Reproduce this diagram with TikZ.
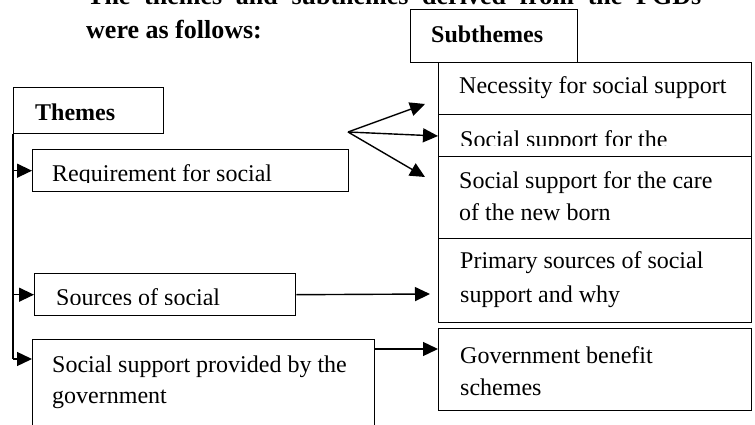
\documentclass[tikz,border=0pt]{standalone}
\usepackage{fontspec}
\setmainfont{Liberation Serif}
\usetikzlibrary{arrows.meta}
\begin{document}
\begin{tikzpicture}[x=1pt,y=-1pt,
  box/.style={draw, line width=1.4pt, inner sep=0pt, anchor=north west},
  txt/.style={inner sep=0pt, anchor=base west, font=\fontsize{24}{32}\selectfont},
  btxt/.style={inner sep=0pt, anchor=base west, font=\fontsize{24}{32}\selectfont\bfseries},
  ttl/.style={inner sep=0pt, anchor=base west, font=\fontsize{26}{34}\selectfont\bfseries},
  conn/.style={line width=1.4pt, -{Triangle[length=15pt,width=14pt]}},
  plain/.style={line width=1.4pt},
]
\clip (0,0) rectangle (755,425);
% title
\node[ttl] (title1) at (87,5) {\makebox[614pt][s]{The themes and subthemes derived from the FGDs}};
\node[ttl] (title2) at (86,39) {were as follows:};
% subtheme column
\node[box, minimum width=167pt, minimum height=53pt] (subth) at (410,9) {};
\node[btxt] (subthT) at (431,43) {Subthemes};
\node[box, minimum width=313pt, minimum height=52pt] (nec) at (438,62) {};
\node[box, minimum width=313pt, minimum height=42pt] (ssft) at (438,114) {};
\node[box, minimum width=313pt, minimum height=82pt] (care) at (438,156) {};
\node[box, minimum width=313pt, minimum height=84pt] (prim) at (438,238) {};
\node[box, minimum width=313pt, minimum height=82pt] (gov) at (438,328) {};
\node[txt] (necT) at (459,94) {Necessity for social support};
\begin{scope}
  \clip (440,116) rectangle (749,146);
  \node[txt] (ssftT) at (460,147) {Social support for the};
\end{scope}
\node[txt] (careT1) at (459,188) {Social support for the care};
\node[txt] (careT2) at (459,220) {of the new born};
\node[txt] (primT1) at (460,268) {Primary sources of social};
\node[txt] (primT2) at (460,302) {support and why};
\node[txt] (govT1) at (460,363) {Government benefit};
\node[txt] (govT2) at (460,395) {schemes};
% theme column
\node[box, minimum width=150pt, minimum height=46pt] (themes) at (13,87) {};
\node[btxt] (themesT) at (35,121) {Themes};
\node[box, minimum width=316pt, minimum height=42pt] (req) at (32,149) {};
\begin{scope}
  \clip (34,151) rectangle (346,182);
  \node[txt] (reqT) at (52,182) {Requirement for social};
\end{scope}
\node[box, minimum width=261pt, minimum height=42pt] (src) at (34,273) {};
\begin{scope}
  \clip (36,275) rectangle (293,304);
  \node[txt] (srcT) at (56,305) {Sources of social};
\end{scope}
\node[box, minimum width=342pt, minimum height=110pt] (govt) at (32,339) {};
\node[txt] (govtT1) at (52,372) {Social support provided by the};
\node[txt] (govtT2) at (52,403) {government};
% trunk and connectors
\coordinate (trunkEnd) at (13,359);
\draw[plain] (themes.south west) -- (trunkEnd);
\draw[conn] (themes.south west |- req.west) -- (req.west);
\draw[conn] (themes.south west |- src.west) -- (src.west);
\draw[conn] (trunkEnd) -- (govt.west |- trunkEnd);
% fan
\coordinate (fan) at (348,132);
\coordinate (f1) at (425,104);
\coordinate (f2) at (438,136);
\coordinate (f3) at (425,177);
\draw[conn] (fan) -- (f1);
\draw[conn] (fan) -- (f2);
\draw[conn] (fan) -- (f3);
% other connectors
\coordinate (srcTip) at (430,294);
\draw[conn] (src.east) -- (srcTip);
\coordinate (govtOut) at (374,349);
\draw[conn] (govtOut) -- (gov.west |- govtOut);
\end{tikzpicture}
\end{document}
